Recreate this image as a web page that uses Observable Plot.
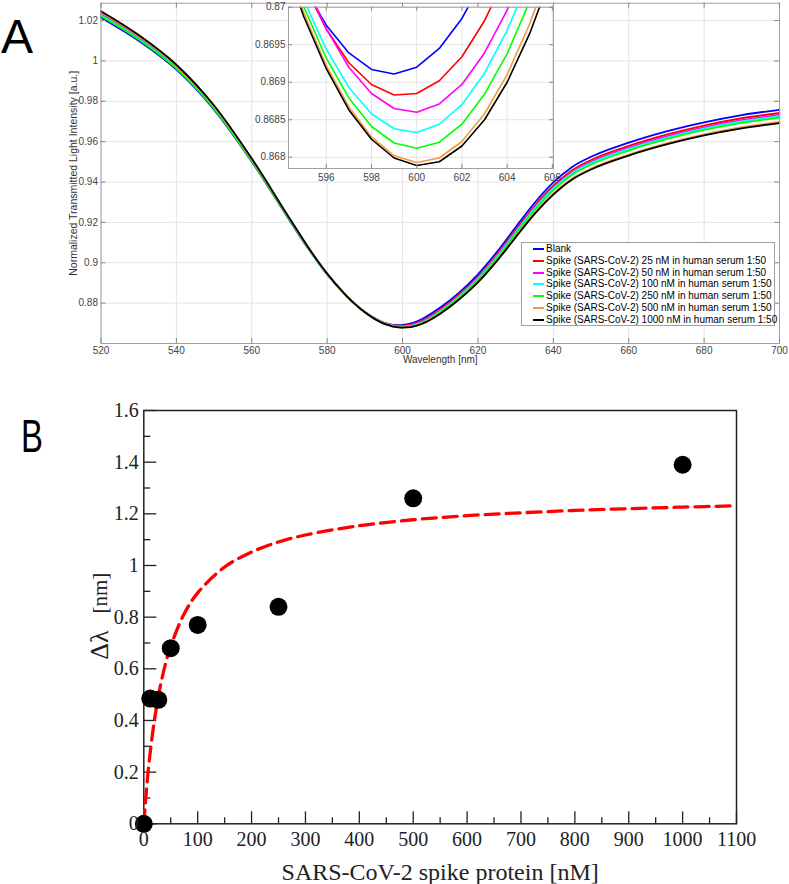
<!DOCTYPE html>
<html><head><meta charset="utf-8">
<script src="https://cdn.jsdelivr.net/npm/d3@7"></script>
<script src="https://cdn.jsdelivr.net/npm/@observablehq/plot@0.6"></script>
<style>
body{margin:0;background:#fff;}
#root{position:relative;width:789px;height:884px;overflow:hidden;font-family:"Liberation Sans",Arial,sans-serif;}
#root > svg, #root > div{position:absolute;}
.legend{left:521px;top:242px;width:254px;height:84px;border:1px solid #a0a0a0;background:#fff;box-sizing:border-box;padding-top:0px;font-size:10px;color:#000;}
.legend .row{height:11.8px;line-height:11.8px;white-space:nowrap;position:relative;}
.legend .sw{position:absolute;left:11px;top:5px;width:11px;height:2px;}
.legend .tx{position:absolute;left:24px;top:0;}
</style></head><body><div id="root"></div>
<script>
// ---------- Panel A data ----------
const wavelengths = [520,530,540,550,560,570,575,580,585,590,594,595,596,597,598,599,600,601,602,603,604,605,606,610,615,620,625,630,635,640,645,650,660,670,680,690,700];
const blank    = [1.0214,1.0100,0.9957,0.9759,0.9501,0.9211,0.9069,0.8942,0.8837,0.8755,0.87096,0.87028,0.86976,0.86939,0.86917,0.86911,0.86920,0.86945,0.86985,0.87040,0.87111,0.87198,0.87299,0.8778,0.8852,0.8943,0.9053,0.9176,0.9296,0.9398,0.9475,0.9525,0.9595,0.9651,0.9696,0.9732,0.9758];
const spike25  = [1.0234,1.0117,0.9971,0.9771,0.9510,0.9217,0.9074,0.8945,0.8839,0.8756,0.87107,0.87031,0.86971,0.86926,0.86897,0.86883,0.86885,0.86902,0.86934,0.86982,0.87045,0.87123,0.87217,0.8769,0.8842,0.8931,0.9040,0.9162,0.9281,0.9382,0.9459,0.9509,0.9579,0.9635,0.9680,0.9716,0.9742];
const spike50  = [1.0229,1.0113,0.9968,0.9768,0.9508,0.9216,0.9073,0.8944,0.8839,0.8757,0.87119,0.87037,0.86971,0.86920,0.86885,0.86865,0.86860,0.86871,0.86897,0.86939,0.86996,0.87068,0.87156,0.8763,0.8836,0.8925,0.9034,0.9155,0.9273,0.9373,0.9450,0.9500,0.9570,0.9626,0.9671,0.9707,0.9733];
const spike100 = [1.0226,1.0110,0.9965,0.9766,0.9506,0.9215,0.9072,0.8943,0.8838,0.8755,0.87092,0.87010,0.86944,0.86893,0.86858,0.86838,0.86833,0.86844,0.86870,0.86912,0.86969,0.87041,0.87129,0.8760,0.8833,0.8921,0.9029,0.9150,0.9268,0.9368,0.9444,0.9494,0.9564,0.9619,0.9665,0.9700,0.9726];
const spike250 = [1.0221,1.0106,0.9962,0.9764,0.9505,0.9214,0.9071,0.8943,0.8838,0.8755,0.87085,0.87001,0.86932,0.86879,0.86841,0.86819,0.86812,0.86820,0.86844,0.86884,0.86938,0.87008,0.87094,0.8756,0.8828,0.8915,0.9023,0.9143,0.9260,0.9360,0.9436,0.9486,0.9556,0.9612,0.9658,0.9693,0.9719];
const spike500 = [1.0240,1.0123,0.9976,0.9775,0.9513,0.9219,0.9075,0.8945,0.8839,0.8755,0.87079,0.86993,0.86922,0.86867,0.86827,0.86802,0.86793,0.86799,0.86821,0.86858,0.86910,0.86978,0.87061,0.8750,0.8821,0.8906,0.9012,0.9130,0.9246,0.9343,0.9418,0.9467,0.9536,0.9591,0.9636,0.9672,0.9698];
const spike1000= [1.0246,1.0128,0.9981,0.9779,0.9516,0.9221,0.9076,0.8946,0.8839,0.8755,0.87073,0.86988,0.86918,0.86863,0.86824,0.86799,0.86789,0.86794,0.86815,0.86850,0.86900,0.86965,0.87046,0.8748,0.8818,0.8903,0.9008,0.9126,0.9241,0.9338,0.9413,0.9462,0.9531,0.9586,0.9631,0.9666,0.9692];
const seriesNames = ["Blank",
  "Spike (SARS-CoV-2) 25 nM in human serum 1:50",
  "Spike (SARS-CoV-2) 50 nM in human serum 1:50",
  "Spike (SARS-CoV-2) 100 nM in human serum 1:50",
  "Spike (SARS-CoV-2) 250 nM in human serum 1:50",
  "Spike (SARS-CoV-2) 500 nM in human serum 1:50",
  "Spike (SARS-CoV-2) 1000 nM in human serum 1:50"];
const seriesColors = ["#0000ff","#ff0000","#ff00ff","#00ffff","#00ff00","#f39a3c","#000000"];
const seriesValues = [blank, spike25, spike50, spike100, spike250, spike500, spike1000];
const xTicksA = [520,540,560,580,600,620,640,660,680,700];
const yTicksA = [0.88,0.9,0.92,0.94,0.96,0.98,1,1.02];
const xTicksInset = [596,598,600,602,604,606];
const yTicksInset = [0.868,0.8685,0.869,0.8695,0.87];

// ---------- Panel B data ----------
const concentrations = [0, 12, 27, 50, 100, 250, 500, 1000];
const wavelengthShift = [0, 0.485, 0.48, 0.68, 0.77, 0.84, 1.26, 1.39];
const fitConcentration = [0,5,10,20,30,40,50,75,100,150,200,250,300,400,500,600,700,800,900,1000,1100];
const fitShift = [0,0.133,0.242,0.406,0.526,0.617,0.688,0.813,0.894,0.994,1.052,1.091,1.118,1.154,1.177,1.193,1.204,1.213,1.220,1.226,1.231];
const xTicksB = [0,100,200,300,400,500,600,700,800,900,1000,1100];
const xMinorB = [50,150,250,350,450,550,650,750,850,950,1050];
const yTicksB = [0,0.2,0.4,0.6,0.8,1,1.2,1.4,1.6];
const yMinorB = [0.1,0.3,0.5,0.7,0.9,1.1,1.3,1.5];

// ---------- build ----------
const root = document.getElementById("root");
const fmt = d => String(+d.toFixed(4));
const spectra = seriesValues.flatMap((vals, s) => vals.map((v, i) => ({wl: wavelengths[i], v, s: seriesNames[s]})));
const sans = "'Liberation Sans', Arial, sans-serif";
const serif = "'Liberation Serif', 'Times New Roman', serif";

// Panel A main
{
  const W = 789, H = 372, ML = 100.5, MR = 10, MT = 2.7, MB = H - 343;
  const fh = H - MT - MB, fw = W - ML - MR;
  const p = Plot.plot({
    width: W, height: H, marginLeft: ML, marginRight: MR, marginTop: MT, marginBottom: MB,
    x: {domain: [520, 700], axis: null, label: null},
    y: {domain: [0.86, 1.0286], axis: null, label: null},
    color: {domain: seriesNames, range: seriesColors},
    style: {background: "transparent", fontFamily: sans, fontSize: "10px", color: "#333"},
    marks: [
      Plot.gridX(xTicksA, {stroke: "#e4e4e4", strokeOpacity: 1}),
      Plot.gridY(yTicksA, {stroke: "#e4e4e4", strokeOpacity: 1}),
      Plot.line(spectra, {x: "wl", y: "v", z: "s", stroke: "s", strokeWidth: 1.8, curve: "monotone-x"}),
      Plot.frame({stroke: "#a0a0a0"}),
      Plot.tickX(xTicksA, {x: d => d, insetTop: fh - 5, stroke: "#888"}),
      Plot.tickX(xTicksA, {x: d => d, insetBottom: fh - 5, stroke: "#888"}),
      Plot.tickY(yTicksA, {y: d => d, insetRight: fw - 5, stroke: "#888"}),
      Plot.tickY(yTicksA, {y: d => d, insetLeft: fw - 5, stroke: "#888"}),
      Plot.axisX(xTicksA, {tickSize: 0, tickPadding: 3, tickFormat: fmt, label: null, fill: "#444"}),
      Plot.axisY(yTicksA, {tickSize: 0, tickPadding: 3, tickFormat: fmt, label: null, fill: "#444"}),
      Plot.text(["Wavelength [nm]"], {frameAnchor: "bottom", dy: 19, text: d => d, fontSize: 10, fill: "#333"}),
      Plot.text(["Normalized Transmitted Light Intensity [a.u.]"], {frameAnchor: "left", textAnchor: "middle", dx: -27.5, rotate: -90, text: d => d, fontSize: 10.5, fill: "#333"})
    ]
  });
  p.style.left = "0px"; p.style.top = "0px";
  root.appendChild(p);
}

// Panel A inset
{
  const W = 332, H = 190, ML = 48, MR = 19, MT = 6.7, MB = H - 168;
  const fh = H - MT - MB, fw = W - ML - MR;
  const insetData = spectra.filter(d => d.wl >= 590 && d.wl <= 610);
  const p = Plot.plot({
    width: W, height: H, marginLeft: ML, marginRight: MR, marginTop: MT, marginBottom: MB,
    x: {domain: [594.33, 606.05], axis: null, label: null},
    y: {domain: [0.86785, 0.87], axis: null, label: null},
    color: {domain: seriesNames, range: seriesColors},
    style: {background: "transparent", fontFamily: sans, fontSize: "10px", color: "#333"},
    marks: [
      Plot.frame({fill: "white", stroke: null}),
      Plot.gridX(xTicksInset, {stroke: "#e4e4e4", strokeOpacity: 1}),
      Plot.gridY(yTicksInset, {stroke: "#e4e4e4", strokeOpacity: 1}),
      Plot.line(insetData, {x: "wl", y: "v", z: "s", stroke: "s", strokeWidth: 1.6, clip: true}),
      Plot.frame({stroke: "#a0a0a0"}),
      Plot.tickX(xTicksInset, {x: d => d, insetTop: fh - 4, stroke: "#888"}),
      Plot.tickX(xTicksInset, {x: d => d, insetBottom: fh - 4, stroke: "#888"}),
      Plot.tickY(yTicksInset, {y: d => d, insetRight: fw - 4, stroke: "#888"}),
      Plot.tickY(yTicksInset, {y: d => d, insetLeft: fw - 4, stroke: "#888"}),
      Plot.axisX(xTicksInset, {tickSize: 0, tickPadding: 5, tickFormat: fmt, label: null, fill: "#444"}),
      Plot.axisY(yTicksInset, {tickSize: 0, tickPadding: 3, tickFormat: fmt, label: null, fill: "#444"})
    ]
  });
  p.style.left = "240px"; p.style.top = "0px";
  root.appendChild(p);
}

// Legend
{
  const lg = document.createElement("div");
  lg.className = "legend";
  seriesNames.forEach((n, i) => {
    const r = document.createElement("div");
    r.className = "row";
    r.innerHTML = `<span class="sw" style="background:${seriesColors[i]}"></span><span class="tx">${n}</span>`;
    lg.appendChild(r);
  });
  root.appendChild(lg);
}

// Panel B
{
  const W = 789, H = 504, ML = 143.3, MR = 53, MT = 30, MB = H - 443.3;
  const fh = H - MT - MB, fw = W - ML - MR;
  const points = concentrations.map((c, i) => ({c, d: wavelengthShift[i]}));
  const fit = fitConcentration.map((c, i) => ({c, d: fitShift[i]}));
  const p = Plot.plot({
    width: W, height: H, marginLeft: ML, marginRight: MR, marginTop: MT, marginBottom: MB,
    x: {domain: [0, 1100], axis: null, label: null},
    y: {domain: [0, 1.6], axis: null, label: null},
    style: {background: "transparent", fontFamily: serif, fontSize: "20px", color: "#222"},
    marks: [
      Plot.frame({stroke: "#222", strokeWidth: 1.5}),
      Plot.tickX(xTicksB, {x: d => d, insetTop: fh - 12, stroke: "#222", strokeWidth: 1.3}),
      Plot.tickX(xMinorB, {x: d => d, insetTop: fh - 6, stroke: "#222", strokeWidth: 1.3}),
      Plot.tickY(yTicksB, {y: d => d, insetRight: fw - 13, stroke: "#222", strokeWidth: 1.3}),
      Plot.tickY(yMinorB, {y: d => d, insetRight: fw - 7, stroke: "#222", strokeWidth: 1.3}),
      Plot.line(fit, {x: "c", y: "d", stroke: "#ff0000", strokeWidth: 3.3, strokeDasharray: "14,7", curve: "catmull-rom"}),
      Plot.dot(points, {x: "c", y: "d", r: 9, fill: "#000", stroke: null}),
      Plot.axisX(xTicksB, {tickSize: 0, tickPadding: 8, tickFormat: fmt, label: null, fill: "#222", fontSize: 20}),
      Plot.axisY(yTicksB, {tickSize: 0, tickPadding: 5, tickFormat: fmt, label: null, fill: "#222", fontSize: 20}),
      Plot.text(["SARS-CoV-2 spike protein [nM]"], {frameAnchor: "bottom", dy: 39, lineAnchor: "top", text: d => d, fontSize: 24, fill: "#222"}),
      Plot.text(["Δλ"], {frameAnchor: "left", textAnchor: "middle", dx: -44, dy: 28, rotate: -90, text: d => d, fontSize: 26, fill: "#222"}),
      Plot.text(["[nm]"], {frameAnchor: "left", textAnchor: "middle", dx: -44, dy: -24, rotate: -90, text: d => d, fontSize: 21, fill: "#222"})
    ]
  });
  p.style.left = "0px"; p.style.top = "380px";
  root.appendChild(p);
}

// Panel letters
{
  const ns = "http://www.w3.org/2000/svg";
  const svg = document.createElementNS(ns, "svg");
  svg.setAttribute("width", 789); svg.setAttribute("height", 884);
  svg.style.left = "0px"; svg.style.top = "0px"; svg.style.pointerEvents = "none";
  svg.innerHTML = `<text x="1" y="53" font-family="${sans}" font-size="48" fill="#000">A</text>
  <text transform="translate(21,452) scale(0.7,1)" x="0" y="0" font-family="${sans}" font-size="47" fill="#000">B</text>`;
  root.appendChild(svg);
}
</script></body></html>
